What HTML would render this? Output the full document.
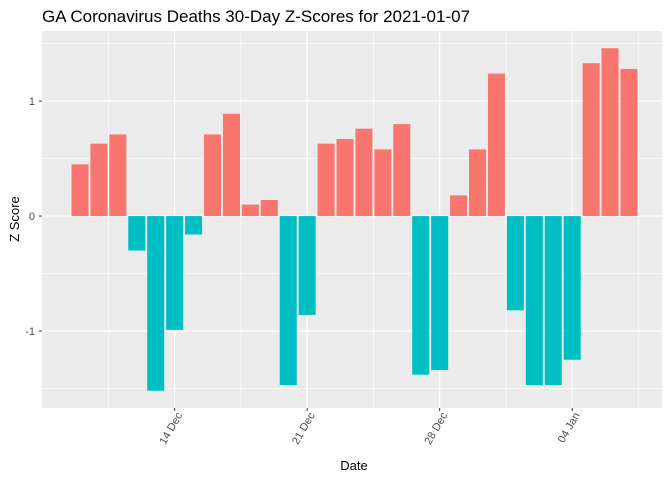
<!DOCTYPE html>
<html><head><meta charset="utf-8"><style>
body{margin:0;background:#fff;}
svg{font-family:"Liberation Sans",sans-serif;display:block;}
</style></head><body>
<svg id="chart" width="672" height="480">
<text x="42" y="22" font-size="17" fill="#000">GA Coronavirus Deaths 30-Day Z-Scores for 2021-01-07</text>
<rect x="42" y="31" width="620" height="377" fill="#ebebeb"/>
<g id="grid"></g>
<g id="bars"></g>
<g id="axes"></g>
<text x="354" y="470" font-size="13" text-anchor="middle">Date</text>
<text transform="translate(19,219) rotate(-90)" font-size="13" text-anchor="middle">Z Score</text>
</svg>
<script>
const categories = ["Dec 9","Dec 10","Dec 11","Dec 12","Dec 13","Dec 14","Dec 15","Dec 16","Dec 17","Dec 18","Dec 19","Dec 20","Dec 21","Dec 22","Dec 23","Dec 24","Dec 25","Dec 26","Dec 27","Dec 28","Dec 29","Dec 30","Dec 31","Jan 1","Jan 2","Jan 3","Jan 4","Jan 5","Jan 6","Jan 7"];
const zScores = [0.45,0.63,0.71,-0.30,-1.52,-0.99,-0.16,0.71,0.89,0.10,0.14,-1.47,-0.86,0.63,0.67,0.76,0.58,0.80,-1.38,-1.34,0.18,0.58,1.24,-0.82,-1.47,-1.47,-1.25,1.33,1.46,1.28];
const xTickLabels = ["14 Dec","21 Dec","28 Dec","04 Jan"];
const xTickIndex = [5,12,19,26];
const yTicks = [-1,0,1];
const yMinor = [-1.5,-0.5,0.5,1.5];

const NS="http://www.w3.org/2000/svg";
const yMin=-1.67,yMax=1.61,pTop=31,pBot=408,pL=42,pR=662;
const y=v=>pBot-(v-yMin)/(yMax-yMin)*(pBot-pTop);
const step=18.93;
const x=i=>80+i*step;
function mk(tag,attrs,parent){const e=document.createElementNS(NS,tag);for(const k in attrs)e.setAttribute(k,attrs[k]);parent.appendChild(e);return e;}
const grid=document.getElementById('grid'),bars=document.getElementById('bars'),axes=document.getElementById('axes');
yMinor.forEach(v=>{const l=mk('line',{x1:pL,x2:pR,y1:y(v),y2:y(v),stroke:'#fff','stroke-width':0.6},grid);

});
yTicks.forEach(v=>{const l=mk('line',{x1:pL,x2:pR,y1:y(v),y2:y(v),stroke:'#fff','stroke-width':1.2},grid);


const tk=mk('line',{x1:pL-3,x2:pL,y1:y(v),y2:y(v),stroke:'#333','stroke-width':1},axes);


const t=mk('text',{x:pL-7,y:y(v)+4,'font-size':11,fill:'#4d4d4d','text-anchor':'end'},axes);t.textContent=v;

});
for(let k=0;k<xTickIndex.length+1;k++){const i=(k===0?xTickIndex[0]-3.5:xTickIndex[k-1]+3.5);
const l=mk('line',{x1:x(i),x2:x(i),y1:pTop,y2:pBot,stroke:'#fff','stroke-width':0.6},grid);

}
xTickIndex.forEach((i,k)=>{const l=mk('line',{x1:x(i),x2:x(i),y1:pTop,y2:pBot,stroke:'#fff','stroke-width':1.2},grid);


const tk=mk('line',{x1:x(i),x2:x(i),y1:pBot,y2:pBot+3,stroke:'#333','stroke-width':1},axes);


const t=mk('text',{transform:`translate(${x(i)+8},${pBot+7}) rotate(-60)`,'font-size':11,fill:'#4d4d4d','text-anchor':'end'},axes);t.textContent=xTickLabels[k];

});
zScores.forEach((v,i)=>{const bw=step*0.9;const r=mk('rect',{x:x(i)-bw/2,y:Math.min(y(v),y(0)),width:bw,height:Math.abs(y(v)-y(0)),fill:v>=0?'#f8766d':'#00bfc4'},bars);

});
</script>
</body></html>
